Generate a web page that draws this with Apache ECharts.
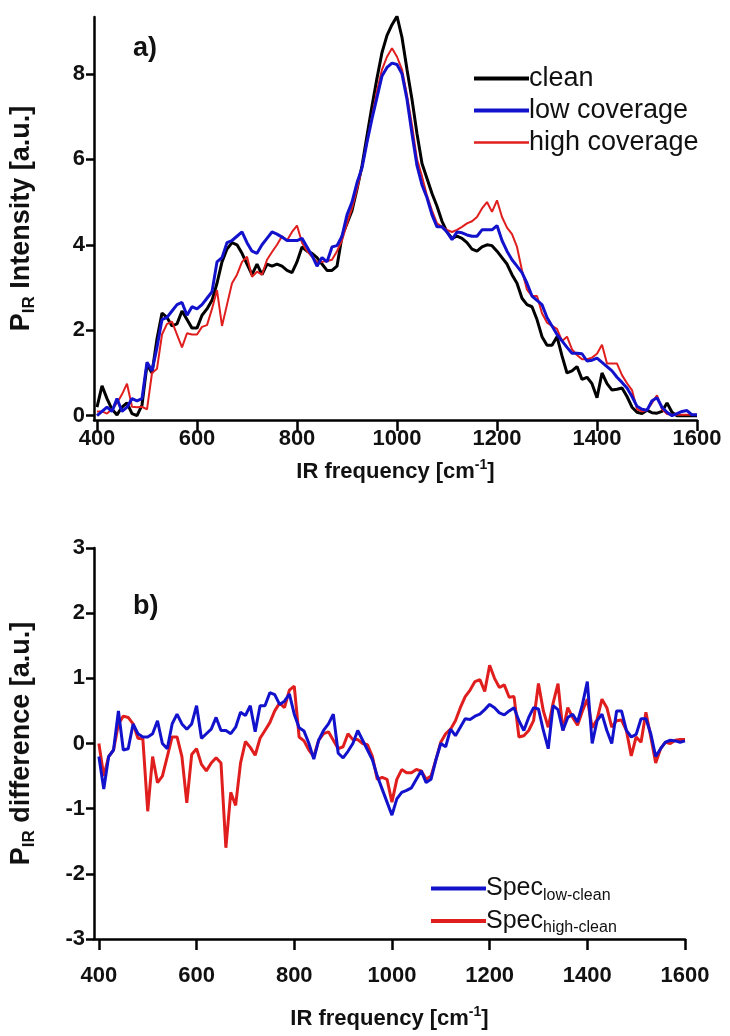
<!DOCTYPE html>
<html lang="en">
<head>
<meta charset="UTF-8" />
<title>IR spectra</title>
<script src="https://cdn.jsdelivr.net/npm/echarts@6/dist/echarts.min.js"></script>
<style>
* { margin: 0; padding: 0; }
body { background: #fff; }
#chart { width: 730px; height: 1036px; }
</style>
</head>
<body>
<div id="chart"></div>
<script>
// IR frequency grid (cm-1)
const freq = [
  400, 410, 420, 430, 440, 450, 460, 470, 480, 490,
  500, 510, 520, 530, 540, 550, 560, 570, 580, 590,
  600, 610, 620, 630, 640, 650, 660, 670, 680, 690,
  700, 710, 720, 730, 740, 750, 760, 770, 780, 790,
  800, 810, 820, 830, 840, 850, 860, 870, 880, 890,
  900, 910, 920, 930, 940, 950, 960, 970, 980, 990,
  1000, 1010, 1020, 1030, 1040, 1050, 1060, 1070, 1080, 1090,
  1100, 1110, 1120, 1130, 1140, 1150, 1160, 1170, 1180, 1190,
  1200, 1210, 1220, 1230, 1240, 1250, 1260, 1270, 1280, 1290,
  1300, 1310, 1320, 1330, 1340, 1350, 1360, 1370, 1380, 1390,
  1400, 1410, 1420, 1430, 1440, 1450, 1460, 1470, 1480, 1490,
  1500, 1510, 1520, 1530, 1540, 1550, 1560, 1570, 1580, 1590, 1600
];

// panel a) intensities
const clean = [
  0.2, 0.7, 0.4, 0.15, 0.02, 0.2, 0.3, 0.05, 0.0, 0.25,
  1.2, 1.0, 1.8, 2.4, 2.3, 2.1, 2.15, 2.45, 2.25, 2.05,
  2.05, 2.35, 2.5, 2.7, 3.1, 3.6, 3.9, 4.05, 4.0, 3.8,
  3.55, 3.3, 3.55, 3.3, 3.55, 3.5, 3.55, 3.5, 3.4, 3.35,
  3.6, 3.95, 3.85, 3.8, 3.7, 3.55, 3.4, 3.4, 3.5, 4.2,
  4.5, 4.8, 5.3, 5.85, 6.55, 7.25, 7.9, 8.5, 8.9, 9.15,
  9.35, 8.85, 8.1, 7.4, 6.6, 5.9, 5.55, 5.2, 4.9, 4.55,
  4.3, 4.15, 4.2, 4.15, 4.05, 3.9, 3.85, 3.95, 4.0, 3.98,
  3.85, 3.7, 3.55, 3.3, 3.1, 2.75, 2.6, 2.55, 2.25, 1.85,
  1.65, 1.65, 1.85, 1.4, 1.0, 1.05, 1.15, 0.85, 0.9, 0.75,
  0.42, 1.0, 0.75, 0.6, 0.62, 0.65, 0.45, 0.2, 0.08, 0.05,
  0.13, 0.07, 0.06, 0.1, 0.3, 0.08, 0.0, 0.0, 0.0, 0.0, 0.0
];
const lowCov = [
  0.0, 0.1, 0.2, 0.1, 0.4, 0.1, 0.2, 0.4, 0.35, 0.4,
  1.25, 1.05, 1.6, 2.25, 2.3, 2.45, 2.6, 2.65, 2.35, 2.55,
  2.5, 2.6, 2.75, 2.9, 3.6, 3.7, 4.05, 4.1, 4.2, 4.3,
  4.05, 3.85, 3.8, 4.0, 4.15, 4.3, 4.25, 4.18, 4.1, 4.1,
  4.1, 4.15, 3.95, 3.75, 3.5, 3.7, 3.6, 3.95, 3.98, 4.2,
  4.7, 5.0, 5.45, 5.8, 6.4, 6.95, 7.45, 7.95, 8.15, 8.25,
  8.22, 8.0, 7.4, 6.6, 5.85, 5.4, 5.1, 4.7, 4.42, 4.42,
  4.3, 4.12, 4.3, 4.28, 4.23, 4.2, 4.2, 4.35, 4.35, 4.35,
  4.45, 4.1, 3.85, 3.65, 3.5, 3.35, 3.1, 2.8, 2.7, 2.6,
  2.3, 2.1, 1.9, 1.75, 1.6, 1.46, 1.46, 1.45, 1.28, 1.3,
  1.35, 1.25, 1.15, 1.05, 0.9, 0.78, 0.65, 0.45, 0.22, 0.15,
  0.13, 0.35, 0.42, 0.2, 0.08, 0.0, 0.05, 0.1, 0.12, 0.02, 0.02
];
const highCov = [
  0.1, 0.1, 0.05, 0.15, 0.3, 0.5, 0.75, 0.21, 0.2, 0.21,
  0.15, 1.0, 1.1, 1.9, 2.15, 2.2, 1.9, 1.6, 1.93, 1.9,
  1.9, 2.08, 2.12, 2.5, 2.94, 2.1, 2.6, 3.1, 3.3, 3.6,
  3.72, 3.25, 3.37, 3.3, 3.65, 3.83, 4.0, 4.2, 4.1, 4.3,
  4.45, 4.05, 3.85, 3.72, 3.6, 3.6, 3.62, 3.65, 3.85, 4.1,
  4.5, 4.85, 5.3, 5.8, 6.4, 7.0, 7.6, 8.1, 8.4, 8.6,
  8.4, 8.1, 7.5, 6.8, 6.0, 5.6, 5.15, 4.8, 4.5, 4.42,
  4.35, 4.3, 4.35, 4.42, 4.5, 4.55, 4.65, 4.85, 5.0, 4.77,
  5.04, 4.65, 4.4, 4.25, 3.95, 3.4, 2.95, 2.8, 2.8, 2.4,
  2.18, 2.1, 2.03, 1.75, 1.85, 1.55, 1.42, 1.32, 1.32, 1.36,
  1.45, 1.66, 1.22, 1.22, 1.22, 0.95, 0.76, 0.6, 0.15, 0.1,
  0.13, 0.3, 0.48, 0.15, 0.04, 0.02, 0.02, 0.02, 0.02, 0.02, 0.02
];

// panel b) differences
const diffLow = [
  -0.2, -0.7, -0.2, -0.1, 0.5, -0.1, -0.08, 0.3, 0.15, 0.1,
  0.1, 0.15, 0.35, 0.0, -0.08, 0.3, 0.45, 0.3, 0.22, 0.3,
  0.58, 0.08, 0.15, 0.22, 0.4, 0.2, 0.2, 0.15, 0.25, 0.48,
  0.43, 0.58, 0.18, 0.58, 0.58, 0.78, 0.75, 0.6, 0.65, 0.76,
  0.45, 0.24, 0.19, 0.0, -0.24, 0.05, 0.2, 0.3, 0.45, -0.15,
  -0.22, -0.12, 0.0, 0.2, 0.05, -0.1, -0.25, -0.5, -0.7, -0.9,
  -1.1, -0.85, -0.75, -0.72, -0.68, -0.55, -0.42, -0.6, -0.55, -0.25,
  0.0, -0.05, 0.22, 0.12, 0.25, 0.38, 0.37, 0.42, 0.45, 0.52,
  0.6, 0.55, 0.47, 0.44, 0.5, 0.55, 0.35, 0.2, 0.4, 0.55,
  0.53, 0.2, -0.08, 0.58, 0.52, 0.2, 0.4, 0.45, 0.33, 0.6,
  0.95, 0.0, 0.35, 0.45, 0.2, 0.0, 0.5, 0.5, 0.2, 0.1,
  0.14, 0.38, 0.38, 0.15, -0.2, -0.08, 0.02, 0.05, 0.04, 0.02, 0.04
];
const diffHigh = [
  0.0, -0.5, -0.2, -0.1, 0.3, 0.42, 0.4, 0.3, 0.08, 0.07,
  -1.04, -0.2, -0.6, -0.5, -0.2, 0.1, 0.1, -0.2, -0.91, -0.17,
  -0.08, -0.32, -0.42, -0.3, -0.22, -0.3, -1.6, -0.75, -0.95, -0.3,
  0.03, -0.06, -0.18, 0.08, 0.2, 0.32, 0.5, 0.62, 0.55, 0.82,
  0.88, 0.1, 0.04, -0.1, -0.2, 0.05, 0.15, 0.18, 0.05, -0.08,
  -0.05, 0.15, 0.06, 0.06, 0.0, -0.02, -0.2, -0.55, -0.52, -0.55,
  -0.9, -0.55, -0.4, -0.45, -0.45, -0.4, -0.42, -0.55, -0.5, -0.25,
  0.02, 0.15, 0.22, 0.35, 0.55, 0.72, 0.82, 0.95, 0.98, 0.8,
  1.2, 1.0, 0.86, 0.9, 0.71, 0.72, 0.1, 0.12, 0.2, 0.35,
  0.92, 0.5, 0.25, 0.62, 0.92, 0.2, 0.55, 0.4, 0.28, 0.5,
  0.68, 0.24, 0.37, 0.68, 0.55, 0.25, 0.35, 0.36, 0.2, -0.19,
  0.1, 0.02, 0.48, 0.1, -0.3, -0.08, 0.02, 0.0, 0.05, 0.06, 0.06
];

const xTicks = [400, 600, 800, 1000, 1200, 1400, 1600];
const yTicksA = [0, 2, 4, 6, 8];
const yTicksB = [-3, -2, -1, 0, 1, 2, 3];

const FONT = '"Liberation Sans", Arial, sans-serif';
const BLACK = '#000000';
const BLUE = '#1212cc';
const RED = '#e01e1e';

function pairs(ys) {
  return freq.map((f, i) => [f, ys[i]]);
}

const tickLabel = { color: '#111', fontFamily: FONT, fontWeight: 'bold', fontSize: 22, formatter: v => String(v) };
const axisLine = { show: true, onZero: false, lineStyle: { color: BLACK, width: 2.5 } };
function richOf(size) {
  return {
    b: { fontFamily: FONT, fontWeight: 'bold', fontSize: size, color: '#111', lineHeight: size + 6 },
    sub: { fontFamily: FONT, fontWeight: 'bold', fontSize: Math.round(size * 0.62), color: '#111', lineHeight: 16, verticalAlign: 'bottom' },
    sup: { fontFamily: FONT, fontWeight: 'bold', fontSize: Math.round(size * 0.62), color: '#111', lineHeight: 16, verticalAlign: 'top' }
  };
}

function xAxisOf(gridIndex, min, labelMargin, nameGap) {
  return {
    type: 'value', gridIndex: gridIndex, min: min, max: 1600,
    name: '{b|IR frequency [cm}{sup|-1}{b|]}',
    nameLocation: 'middle', nameGap: nameGap,
    nameTextStyle: { rich: richOf(22) },
    axisLine: axisLine,
    axisTick: { show: true, inside: false, length: 11, lineStyle: { color: BLACK, width: 2.5 }, customValues: xTicks },
    axisLabel: Object.assign({ margin: labelMargin, customValues: xTicks }, tickLabel),
    splitLine: { show: false }
  };
}

function yAxisOf(gridIndex, min, max, ticks, title) {
  return {
    type: 'value', gridIndex: gridIndex, min: min, max: max,
    name: title,
    nameLocation: 'middle', nameGap: 56, nameRotate: 90,
    nameTextStyle: { rich: richOf(27) },
    axisLine: axisLine,
    axisTick: { show: true, inside: false, length: 8, lineStyle: { color: BLACK, width: 2.5 }, customValues: ticks },
    axisLabel: Object.assign({ margin: 9, customValues: ticks }, tickLabel),
    splitLine: { show: false }
  };
}

const chart = echarts.init(document.getElementById('chart'));
chart.setOption({
  backgroundColor: '#fff',
  animation: false,
  title: [
    { text: 'a)', left: 128, top: 30, textStyle: { fontFamily: FONT, fontWeight: 'bold', fontSize: 27, color: '#111' } },
    { text: 'b)', left: 128, top: 588, textStyle: { fontFamily: FONT, fontWeight: 'bold', fontSize: 27, color: '#111' } }
  ],
  legend: [
    {
      data: [
        { name: 'clean', lineStyle: { width: 4 } },
        { name: 'low coverage', lineStyle: { width: 4 } },
        { name: 'high coverage', lineStyle: { width: 2.5 } }
      ],
      orient: 'vertical', left: 467, top: 60, itemWidth: 55, itemHeight: 14, itemGap: 5,
      selectedMode: false,
      itemStyle: { opacity: 0 },
      textStyle: { fontFamily: FONT, fontSize: 27, color: '#111', padding: [0, 0, 0, -5] }
    },
    {
      data: [
        { name: 'Spec_low-clean', lineStyle: { width: 4 } },
        { name: 'Spec_high-clean', lineStyle: { width: 4 } }
      ],
      orient: 'vertical', left: 424, top: 871, itemWidth: 55, itemHeight: 14, itemGap: 5,
      selectedMode: false,
      itemStyle: { opacity: 0 },
      formatter: function (name) {
        return '{m|Spec}{s|' + name.split('_')[1] + '}';
      },
      textStyle: {
        padding: [0, 0, 0, -5],
        rich: {
          m: { fontFamily: FONT, fontSize: 25, color: '#111', lineHeight: 30 },
          s: { fontFamily: FONT, fontSize: 16, color: '#111', lineHeight: 18, verticalAlign: 'bottom' }
        }
      }
    }
  ],
  grid: [
    { left: 92, right: 33, top: 17, height: 403 },
    { left: 93, right: 45, top: 548, height: 391 }
  ],
  xAxis: [xAxisOf(0, 394, 8, 38), xAxisOf(1, 390, 26, 66)],
  yAxis: [
    yAxisOf(0, -0.1, 9.33, yTicksA, '{b|P}{sub|IR}{b| Intensity [a.u.]}'),
    yAxisOf(1, -3, 3, yTicksB, '{b|P}{sub|IR}{b| difference [a.u.]}')
  ],
  series: [
    { name: 'clean', type: 'line', xAxisIndex: 0, yAxisIndex: 0, symbol: 'none', z: 2,
      lineStyle: { color: BLACK, width: 3 }, itemStyle: { color: BLACK }, data: pairs(clean) },
    { name: 'high coverage', type: 'line', xAxisIndex: 0, yAxisIndex: 0, symbol: 'none', z: 3,
      lineStyle: { color: RED, width: 2 }, itemStyle: { color: RED }, data: pairs(highCov) },
    { name: 'low coverage', type: 'line', xAxisIndex: 0, yAxisIndex: 0, symbol: 'none', z: 4,
      lineStyle: { color: BLUE, width: 3 }, itemStyle: { color: BLUE }, data: pairs(lowCov) },
    { name: 'Spec_high-clean', type: 'line', xAxisIndex: 1, yAxisIndex: 1, symbol: 'none', z: 2,
      lineStyle: { color: RED, width: 3 }, itemStyle: { color: RED }, data: pairs(diffHigh) },
    { name: 'Spec_low-clean', type: 'line', xAxisIndex: 1, yAxisIndex: 1, symbol: 'none', z: 3,
      lineStyle: { color: BLUE, width: 3 }, itemStyle: { color: BLUE }, data: pairs(diffLow) }
  ]
});
</script>
</body>
</html>
